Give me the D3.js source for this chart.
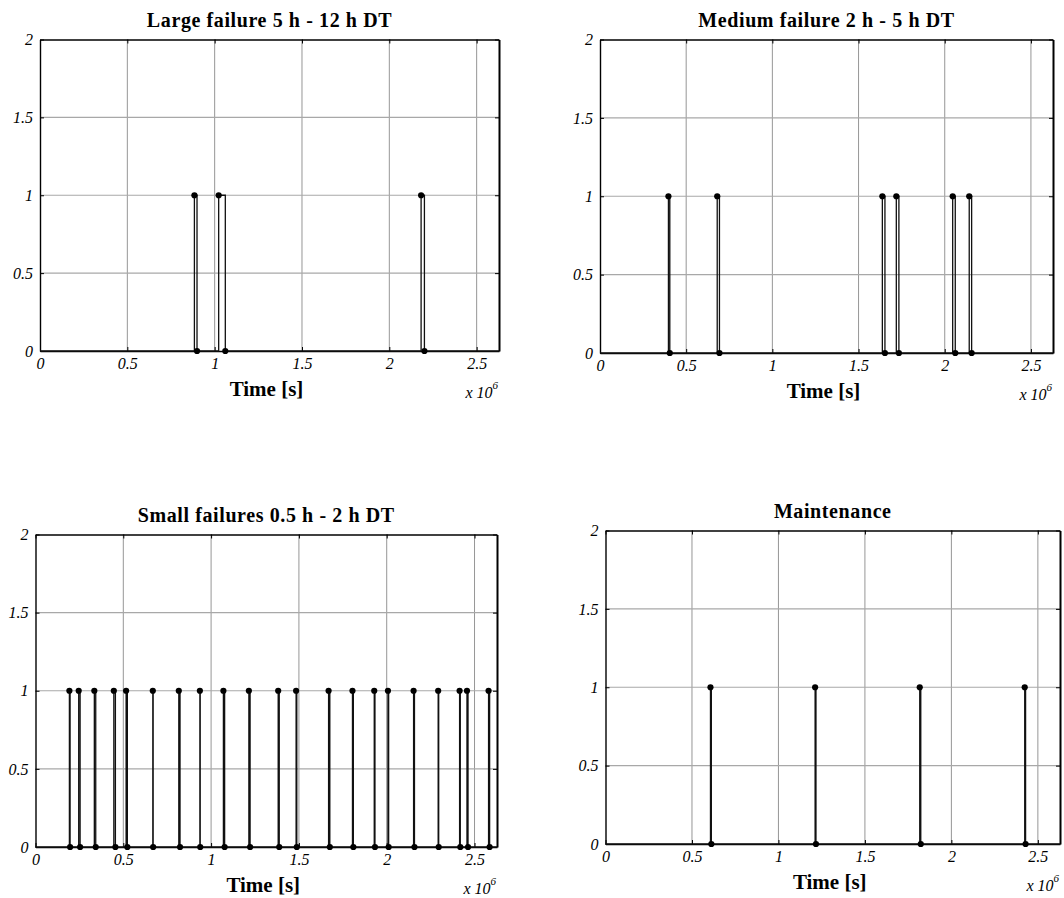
<!DOCTYPE html>
<html>
<head>
<meta charset="utf-8">
<script src="https://cdn.jsdelivr.net/npm/d3@7/dist/d3.min.js"></script>
<style>
  body { margin: 0; background: #fff; }
  svg { display: block; }
</style>
</head>
<body>
<svg id="chart" width="1064" height="898"></svg>
<script>
// ---- data (time in seconds) ----
const titles = ["Large failure 5 h - 12 h DT", "Medium failure 2 h - 5 h DT", "Small failures 0.5 h - 2 h DT", "Maintenance"];
const xLabel = "Time [s]";
const xTicks = [0, 0.5e6, 1e6, 1.5e6, 2e6, 2.5e6];
const xTickLabels = ["0", "0.5", "1", "1.5", "2", "2.5"];
const yTicks = [0, 0.5, 1, 1.5, 2];
const yTickLabels = ["0", "0.5", "1", "1.5", "2"];
const xMax = 2.628e6;

const largeStart = [0.884e6, 1.023e6, 2.182e6];
const largeEnd   = [0.899e6, 1.061e6, 2.201e6];

const mediumStart = [0.397e6, 0.680e6, 1.638e6, 1.719e6, 2.046e6, 2.142e6];
const mediumEnd   = [0.405e6, 0.693e6, 1.653e6, 1.734e6, 2.061e6, 2.156e6];

const smallStart = [0.193e6, 0.246e6, 0.335e6, 0.446e6, 0.516e6, 0.668e6, 0.816e6, 0.936e6, 1.070e6, 1.215e6, 1.382e6,
                    1.484e6, 1.669e6, 1.805e6, 1.929e6, 2.007e6, 2.153e6, 2.293e6, 2.415e6, 2.457e6, 2.580e6];
const smallEnd   = [0.197e6, 0.254e6, 0.343e6, 0.455e6, 0.523e6, 0.670e6, 0.823e6, 0.938e6, 1.077e6, 1.222e6, 1.388e6,
                    1.488e6, 1.676e6, 1.810e6, 1.933e6, 2.011e6, 2.158e6, 2.296e6, 2.419e6, 2.463e6, 2.586e6];

const maintStart = [0.607e6, 1.212e6, 1.817e6, 2.424e6];
const maintEnd   = [0.612e6, 1.217e6, 1.823e6, 2.429e6];

const seriesStarts = [largeStart, mediumStart, smallStart, maintStart];
const seriesEnds = [largeEnd, mediumEnd, smallEnd, maintEnd];

// ---- layout ----
const boxes = [
  { x0: 40,    x1: 499,  y0: 39.5,  y1: 351 },
  { x0: 600,   x1: 1053, y0: 39.5,  y1: 353 },
  { x0: 35.5,  x1: 497,  y0: 534.5, y1: 847 },
  { x0: 605.5, x1: 1060, y0: 530.5, y1: 844 }
];

const svg = d3.select("#chart");
const serif = "'Liberation Serif', 'Times New Roman', Times, serif";

boxes.forEach((b, i) => {
  const x = d3.scaleLinear().domain([0, xMax]).range([b.x0, b.x1]);
  const y = d3.scaleLinear().domain([0, 2]).range([b.y1, b.y0]);
  const g = svg.append("g");

  // grid
  g.append("g").selectAll("line").data(xTicks.filter(t => t > 0)).join("line")
    .attr("x1", d => x(d)).attr("x2", d => x(d)).attr("y1", b.y0).attr("y2", b.y1)
    .attr("stroke", "#8a8a8a").attr("stroke-width", 0.9);
  g.append("g").selectAll("line").data(yTicks.filter(t => t > 0 && t < 2)).join("line")
    .attr("x1", b.x0).attr("x2", b.x1).attr("y1", d => y(d)).attr("y2", d => y(d))
    .attr("stroke", "#a8a8a8").attr("stroke-width", 1.2);

  // axes
  const fmtX = d => xTickLabels[xTicks.indexOf(d)];
  const fmtY = d => yTickLabels[yTicks.indexOf(d)];
  const axB = g.append("g").attr("transform", `translate(0,${b.y1})`)
    .call(d3.axisBottom(x).tickValues(xTicks).tickFormat(fmtX).tickSizeInner(-4).tickSizeOuter(0).tickPadding(7));
  const axL = g.append("g").attr("transform", `translate(${b.x0},0)`)
    .call(d3.axisLeft(y).tickValues(yTicks).tickFormat(fmtY).tickSizeInner(-4).tickSizeOuter(0).tickPadding(7));
  const axT = g.append("g").attr("transform", `translate(0,${b.y0})`)
    .call(d3.axisTop(x).tickValues(xTicks).tickFormat("").tickSizeInner(-4).tickSizeOuter(0));
  const axR = g.append("g").attr("transform", `translate(${b.x1},0)`)
    .call(d3.axisRight(y).tickValues(yTicks).tickFormat("").tickSizeInner(-4).tickSizeOuter(0));
  [axB, axL, axT, axR].forEach(a => {
    a.attr("font-family", null).attr("font-size", null);
    a.select(".domain").attr("stroke", "#000").attr("stroke-width", 1.4);
    a.selectAll(".tick line").attr("stroke", "#000").attr("stroke-width", 1);
    a.selectAll(".tick text")
      .style("font-family", serif).style("font-style", "italic").style("font-size", "16px").attr("fill", "#000");
  });
  axR.select(".domain").attr("stroke-width", 2);

  // signal
  const starts = seriesStarts[i], ends = seriesEnds[i];
  const pts = [[0, 0]];
  starts.forEach((s, k) => { pts.push([s, 0], [s, 1], [ends[k], 1], [ends[k], 0]); });
  pts.push([xMax, 0]);
  g.append("path").datum(pts)
    .attr("d", d3.line().x(d => x(d[0])).y(d => y(d[1])))
    .attr("fill", "none").attr("stroke", "#111").attr("stroke-width", 1.3);

  g.append("g").selectAll("circle").data(starts).join("circle")
    .attr("cx", d => x(d)).attr("cy", y(1)).attr("r", 3.1).attr("fill", "#000");
  g.append("g").selectAll("circle").data(ends).join("circle")
    .attr("cx", d => x(d)).attr("cy", y(0)).attr("r", 3.1).attr("fill", "#000");

  // title
  svg.append("text").attr("x", (b.x0 + b.x1) / 2).attr("y", b.y0 - 13)
    .attr("text-anchor", "middle").style("font-family", serif).style("font-weight", "bold")
    .style("font-size", "20px").attr("letter-spacing", 0.6).text(titles[i]);

  // x label
  svg.append("text").attr("x", (b.x0 + b.x1) / 2 - 3).attr("y", b.y1 + 45)
    .attr("text-anchor", "middle").style("font-family", serif).style("font-weight", "bold")
    .style("font-size", "21px").text(xLabel);

  // exponent
  const ex = svg.append("text").attr("x", b.x1 - 1).attr("y", b.y1 + 47)
    .attr("text-anchor", "end").style("font-family", serif).style("font-style", "italic")
    .style("font-size", "16px");
  ex.append("tspan").text("x 10");
  ex.append("tspan").style("font-size", "11px").attr("dy", -9).text("6");
});
</script>
</body>
</html>
